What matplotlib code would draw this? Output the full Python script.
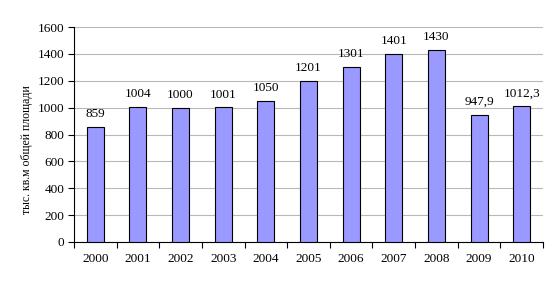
import numpy as np
import matplotlib
matplotlib.use("Agg")
import matplotlib.pyplot as plt

years = ["2000", "2001", "2002", "2003", "2004", "2005",
         "2006", "2007", "2008", "2009", "2010"]
values = [859, 1004, 1000, 1001, 1050, 1201, 1301, 1401, 1430, 947.9, 1012.3]
labels = ["859", "1004", "1000", "1001", "1050", "1201",
          "1301", "1401", "1430", "947,9", "1012,3"]

plt.rcParams['font.family'] = ['Liberation Serif', 'DejaVu Serif']

fig = plt.figure(figsize=(5.57, 2.87), dpi=100)
ax = fig.add_axes([74/557, 1 - 242/287, (543-74)/557, (242-27)/287])

x = np.arange(len(years))
ax.bar(x, values, width=0.4, color="#9999FF", edgecolor="black", linewidth=0.8, zorder=3)
for xi, v, s in zip(x, values, labels):
    ax.text(xi, v + 50, s, ha="center", va="bottom", fontsize=9.5)

ax.set_xlim(-0.5, len(years) - 0.5)
ax.set_ylim(0, 1600)
ax.set_yticks(range(0, 1601, 200))
ax.yaxis.grid(True, color="#b8b8b8", linewidth=0.8, zorder=0)

ax.set_xticks(x)
ax.set_xticklabels(years, fontsize=9.5)
ax.set_xticks(np.arange(-0.5, len(years), 1), minor=True)
ax.tick_params(axis="x", which="major", length=0, pad=8)
ax.tick_params(axis="x", which="minor", length=4, direction="out", width=0.8)
ax.tick_params(axis="y", length=4, direction="out", width=0.8, labelsize=9.5, pad=3)

for side in ["top", "right"]:
    ax.spines[side].set_visible(False)
ax.spines["left"].set_linewidth(0.8)
ax.spines["bottom"].set_linewidth(0.8)

ax.set_ylabel("тыс. кв.м общей площади", fontsize=8.5)
ax.yaxis.set_label_coords(-0.088, 0.43)

fig.savefig("out.png", dpi=100)
